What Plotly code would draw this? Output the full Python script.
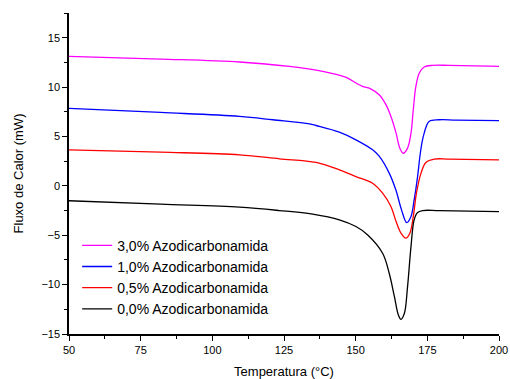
import plotly.graph_objects as go

series_names = ["3,0% Azodicarbonamida", "1,0% Azodicarbonamida",
                "0,5% Azodicarbonamida", "0,0% Azodicarbonamida"]
series_colors = ["#ff00ff", "#0000ff", "#ff0000", "#000000"]

t_30 = [50, 82, 109.5, 126.9, 138.5, 146.7, 150.1, 152.4, 155.4, 158.2, 160.6, 162.3, 164.1, 165.4, 166.6,
        168.1, 169.3, 170.1, 171, 172.2, 173.9, 176.8, 182.6, 200]
q_30 = [13.1, 12.84, 12.54, 12.09, 11.59, 10.98, 10.41, 10.07, 9.8, 9.22, 8.2, 7.03, 5.34, 3.82, 3.3,
        3.82, 5.34, 7.7, 10.07, 11.42, 12.03, 12.2, 12.2, 12.1]

t_10 = [50, 82, 109.5, 121.1, 133.9, 136.2, 144.3, 150.1, 155.9, 158.2, 161.7, 164, 166, 167.8, 169.3, 170.4,
        171.6, 172.4, 173.1, 173.9, 175.6, 179.1, 185, 200]
q_10 = [7.84, 7.43, 7.03, 6.69, 6.28, 6.11, 5.44, 4.66, 3.65, 3.0, 1.29, -0.4, -2.43, -3.72, -3.1, -1.42,
        0.94, 2.97, 4.33, 5.34, 6.52, 6.69, 6.66, 6.6]

t_05 = [50, 82, 109.5, 123.4, 136.2, 144.3, 150.1, 155.9, 159.4, 162.3, 164.1, 165.8, 167.5, 168.9, 170.1,
        171.2, 172.8, 174.5, 177.4, 182.6, 200]
q_05 = [3.65, 3.41, 3.14, 2.74, 2.37, 1.62, 0.94, 0.27, -0.74, -2.09, -3.61, -4.79, -5.3, -4.79, -3.1,
        -0.74, 1.29, 2.37, 2.71, 2.71, 2.62]

t_00 = [50, 82, 109.5, 123.4, 135, 144.3, 150.1, 154.2, 159.4, 161.7, 163.5, 164.9, 165.8, 167, 168.1,
        169.3, 170.4, 171.6, 173.3, 179.1, 200]
q_00 = [-1.51, -1.86, -2.16, -2.5, -2.87, -3.44, -4.12, -4.97, -6.82, -8.85, -11.2, -13.07, -13.51, -12.9, -10.2,
        -6.15, -3.44, -2.70, -2.5, -2.5, -2.6]

xs = [t_30, t_10, t_05, t_00]
ys = [q_30, q_10, q_05, q_00]

fig = go.Figure()
for name, color, x, y in zip(series_names, series_colors, xs, ys):
    fig.add_trace(go.Scatter(x=x, y=y, mode="lines", name=name,
                             line=dict(color=color, width=1.3, shape="spline", smoothing=1.0)))

axis_common = dict(showline=True, linecolor="black", linewidth=1.5, mirror=False,
                   ticks="outside", ticklen=5, tickwidth=1.2, tickcolor="black",
                   showgrid=False, zeroline=False, automargin=False,
                   tickfont=dict(family="Arial, Liberation Sans", size=11, color="black"))

fig.update_layout(
    width=510, height=379,
    margin=dict(l=69, r=11, t=13, b=45),
    plot_bgcolor="white", paper_bgcolor="white",
    font=dict(family="Arial, Liberation Sans", color="black"),
    xaxis=dict(range=[50, 200], dtick=25, tick0=50,
               minor=dict(dtick=12.5, ticks="outside", ticklen=3, tickcolor="black"),
               title=dict(text="Temperatura (°C)", font=dict(size=13), standoff=12),
               **axis_common),
    yaxis=dict(range=[-15, 17.5], dtick=5, tick0=-15,
               minor=dict(dtick=2.5, ticks="outside", ticklen=3, tickcolor="black"),
               title=dict(text="Fluxo de Calor (mW)", font=dict(size=13), standoff=15),
               **axis_common),
    legend=dict(x=0.019, y=0.325, xanchor="left", yanchor="top",
                bgcolor="rgba(0,0,0,0)", font=dict(size=14), tracegroupgap=0,
                itemwidth=30),
    showlegend=True,
)

fig.write_html("out.html", config={"displayModeBar": False},
               post_script="document.body.style.margin='0';document.body.style.padding='0';")
